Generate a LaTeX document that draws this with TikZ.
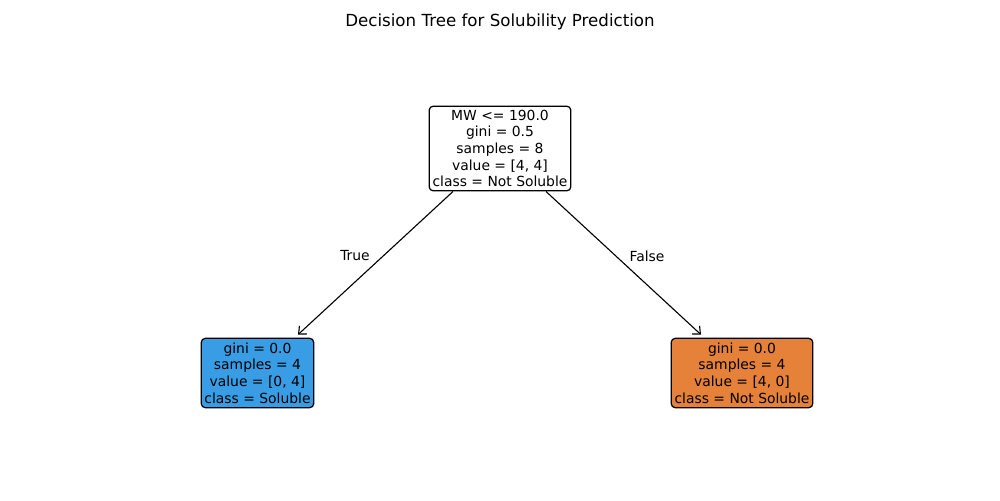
\documentclass[tikz,border=0pt]{standalone}
\usepackage{fontspec}
\setmainfont{DejaVu Sans}
\usetikzlibrary{arrows.meta,calc}
\definecolor{leafblue}{HTML}{399DE5}
\definecolor{leaforange}{HTML}{E58139}
\begin{document}
\begin{tikzpicture}[x=0.72pt,y=-0.72pt,
  treebox/.style={draw=black,line width=0.9pt,rounded corners=3pt,align=center,
    font=\fontsize{10pt}{12pt}\selectfont,inner sep=1.5pt},
  edge/.style={line width=0.8pt,-{Straight Barb[length=4.5pt,width=8pt]}},
  lbl/.style={font=\fontsize{10pt}{12pt}\selectfont}]
\useasboundingbox (0,0) rectangle (1000,500);
\node[font=\fontsize{12pt}{14pt}\selectfont] (title) at (500,22) {Decision Tree for Solubility Prediction};
\node[treebox,fill=white,minimum width=102pt,minimum height=61pt] (root) at (500,148.5)
  {MW <= 190.0\\gini = 0.5\\samples = 8\\value = [4, 4]\\class = Not Soluble};
\node[treebox,fill=leafblue,minimum width=81pt,minimum height=50pt] (left) at (257.5,373)
  {gini = 0.0\\samples = 4\\value = [0, 4]\\class = Soluble};
\node[treebox,fill=leaforange,minimum width=102pt,minimum height=50pt] (right) at (742,373)
  {gini = 0.0\\samples = 4\\value = [4, 0]\\class = Not Soluble};
\coordinate (ls) at ($(root.south)+(-47,0)$);
\coordinate (rs) at ($(root.south)+(46,0)$);
\coordinate (le) at ($(left.north)+(40.5,-3)$);
\coordinate (re) at ($(right.north)+(-41,-3)$);
\draw[edge] (ls) -- (le);
\draw[edge] (rs) -- (re);
\node[lbl] (true) at (355,256) {True};
\node[lbl] (false) at (647,256) {False};
\end{tikzpicture}
\end{document}
